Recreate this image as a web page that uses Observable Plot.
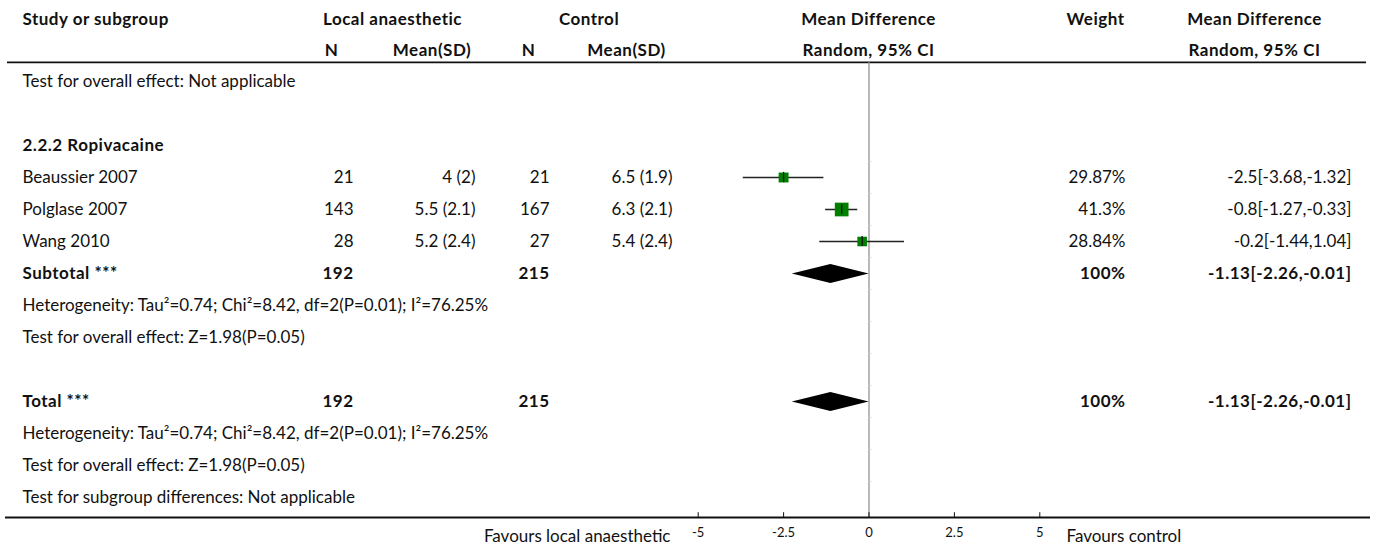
<!DOCTYPE html>
<html><head><meta charset="utf-8">
<script src="https://cdn.jsdelivr.net/npm/d3@7"></script>
<script src="https://cdn.jsdelivr.net/npm/@observablehq/plot@0.6"></script>
<style>
html,body{margin:0;padding:0;background:#fff;}
g[font-weight="bold"] text{letter-spacing:0.5px;}
</style>
</head><body><div id="chart"></div>
<script>
// ---------- DATA ----------
const headerTop = ["Study or subgroup", "Local anaesthetic", "Control", "Mean Difference", "Weight", "Mean Difference"];
const headerSub = ["N", "Mean(SD)", "N", "Mean(SD)", "Random, 95% CI", "Random, 95% CI"];
const firstNote = "Test for overall effect: Not applicable";
const groupName = "2.2.2 Ropivacaine";
const studies = ["Beaussier 2007", "Polglase 2007", "Wang 2010"];
const laN = [21, 143, 28];
const laMean = [4, 5.5, 5.2];
const laSD = [2, 2.1, 2.4];
const ctN = [21, 167, 27];
const ctMean = [6.5, 6.3, 5.4];
const ctSD = [1.9, 2.1, 2.4];
const weights = [29.87, 41.3, 28.84];
const md = [-2.5, -0.8, -0.2];
const mdLo = [-3.68, -1.27, -1.44];
const mdHi = [-1.32, -0.33, 1.04];
const pooledLabels = ["Subtotal ***", "Total ***"];
const pooledLaN = [192, 192];
const pooledCtN = [215, 215];
const pooledWeight = [100, 100];
const pooledMd = [-1.13, -1.13];
const pooledLo = [-2.26, -2.26];
const pooledHi = [-0.01, -0.01];
const hetNote = "Heterogeneity: Tau²=0.74; Chi²=8.42, df=2(P=0.01); I²=76.25%";
const testNote = "Test for overall effect: Z=1.98(P=0.05)";
const subgroupNote = "Test for subgroup differences: Not applicable";
const xTicks = [-5, -2.5, 0, 2.5, 5];
const favoursLeft = "Favours local anaesthetic";
const favoursRight = "Favours control";

// ---------- ROW LAYOUT ----------
let r = 0;
const plainLeft = [];
const boldLeft = [];
plainLeft.push({row: r++, label: firstNote});
r++; // blank
boldLeft.push({row: r++, label: groupName});
const studyRows = studies.map((s, i) => ({
  row: r++, label: s, laN: laN[i], laMS: `${laMean[i]} (${laSD[i]})`,
  ctN: ctN[i], ctMS: `${ctMean[i]} (${ctSD[i]})`, weight: weights[i],
  wLabel: `${weights[i]}%`, md: md[i], lo: mdLo[i], hi: mdHi[i],
  ci: `${md[i]}[${mdLo[i]},${mdHi[i]}]`
}));
studyRows.forEach(d => plainLeft.push(d));
const pooledRows = [];
function addPooled(i) {
  const d = {row: r++, label: pooledLabels[i], laN: pooledLaN[i], ctN: pooledCtN[i],
    wLabel: `${pooledWeight[i]}%`, md: pooledMd[i], lo: pooledLo[i], hi: pooledHi[i],
    ci: `${pooledMd[i]}[${pooledLo[i]},${pooledHi[i]}]`, id: i};
  pooledRows.push(d); boldLeft.push(d);
}
addPooled(0);
plainLeft.push({row: r++, label: hetNote});
plainLeft.push({row: r++, label: testNote});
r++; // blank
addPooled(1);
plainLeft.push({row: r++, label: hetNote});
plainLeft.push({row: r++, label: testNote});
plainLeft.push({row: r++, label: subgroupNote});
const lastRow = r - 1;

const headerTopRow = -1.94, headerSubRow = -0.98, headerRule = -0.6;
const axisRow = lastRow + 0.625, tickRow = axisRow + 0.47, favRow = axisRow + 0.6;
const boundaries = d3.range(3, lastRow + 1).map(k => k - 0.5);

const diamond = pooledRows.flatMap(p => [
  {x: p.lo, y: p.row, id: p.id}, {x: p.md, y: p.row - 0.3, id: p.id},
  {x: p.hi, y: p.row, id: p.id}, {x: p.md, y: p.row + 0.3, id: p.id}
]);

const FS = 17, INK = "#111";
const col = {study: 22, laN: 353, laMS: 475, ctN: 549, ctMS: 672, weight: 1125, ci: 1351};
const headTopX = [22, 392, 588.5, 868, 1095, 1254];
const headTopAnchor = ["start", "middle", "middle", "middle", "middle", "middle"];
const headSubX = [331, 431.5, 528, 626, 868, 1254];

function colText(data, key, dx, opts = {}) {
  return Plot.text(data, {y: "row", text: key, frameAnchor: "left", dx, textAnchor: "end",
    fontSize: FS, fill: INK, ...opts});
}

const marks = [
  ...headerTop.map((t, i) => Plot.text([t], {y: () => headerTopRow, text: d => d, frameAnchor: "left",
    dx: headTopX[i], textAnchor: headTopAnchor[i], fontWeight: "bold", fontSize: FS, fill: INK})),
  ...headerSub.map((t, i) => Plot.text([t], {y: () => headerSubRow, text: d => d, frameAnchor: "left",
    dx: headSubX[i], textAnchor: "middle", fontWeight: "bold", fontSize: FS, fill: INK})),
  Plot.ruleY([headerRule], {stroke: "#111", strokeWidth: 1.8, insetLeft: 7, insetRight: 9}),
  Plot.ruleX([0], {y1: headerRule, y2: axisRow, stroke: "#8a8a8a", strokeWidth: 1.2}),
  Plot.ruleY(boundaries, {x1: 0, x2: 0.08, stroke: "#d0d0d0"}),
  Plot.text(plainLeft, {y: "row", text: "label", frameAnchor: "left", dx: col.study, textAnchor: "start", fontSize: FS, fill: INK}),
  Plot.text(boldLeft, {y: "row", text: "label", frameAnchor: "left", dx: col.study, textAnchor: "start", fontSize: FS, fontWeight: "bold", fill: INK}),
  colText(studyRows, "laN", col.laN), colText(studyRows, "laMS", col.laMS),
  colText(studyRows, "ctN", col.ctN), colText(studyRows, "ctMS", col.ctMS),
  colText(studyRows, "wLabel", col.weight), colText(studyRows, "ci", col.ci),
  colText(pooledRows, "laN", col.laN, {fontWeight: "bold"}), colText(pooledRows, "ctN", col.ctN, {fontWeight: "bold"}),
  colText(pooledRows, "wLabel", col.weight, {fontWeight: "bold"}), colText(pooledRows, "ci", col.ci, {fontWeight: "bold"}),
  Plot.ruleY(studyRows, {y: "row", x1: "lo", x2: "hi", stroke: "#222", strokeWidth: 1.4}),
  Plot.dot(studyRows, {x: "md", y: "row", r: "weight", symbol: "square", fill: "#008000", stroke: "none"}),
  Plot.ruleX(studyRows, {x: "md", y1: d => d.row - 0.16, y2: d => d.row + 0.16, stroke: "#111", strokeWidth: 1.3}),
  Plot.line(diamond, {x: "x", y: "y", z: "id", fill: "#000", stroke: "none", curve: "linear-closed"}),
  // axis
  Plot.ruleY([axisRow], {stroke: "#111", strokeWidth: 1.8, insetLeft: 5, insetRight: 5}),
  Plot.ruleX(xTicks, {y1: axisRow, y2: axisRow - 0.15, stroke: "#111", strokeWidth: 1}),
  Plot.text(xTicks, {x: d => d, y: () => tickRow, text: d => String(d), fontSize: 13, fill: INK}),
  Plot.text([favoursLeft], {y: () => favRow, text: d => d, frameAnchor: "left", dx: 670, textAnchor: "end", fontSize: FS, fill: INK}),
  Plot.text([favoursRight], {y: () => favRow, text: d => d, frameAnchor: "left", dx: 1066, textAnchor: "start", fontSize: FS, fill: INK})
];

const chart = Plot.plot({
  width: 1375, height: 547,
  marginLeft: 0, marginRight: 0, marginTop: 0, marginBottom: 547 - 517,
  style: {fontFamily: "Lato, sans-serif", background: "#fff"},
  x: {domain: [-5, 5], range: [697.7, 1039.3], axis: null},
  y: {domain: [0, lastRow], range: [81, 81 + 32 * lastRow], axis: null},
  r: {type: "linear", domain: [0, 41.3], range: [0, 7.73]},
  marks
});
document.getElementById("chart").appendChild(chart);
</script></body></html>
